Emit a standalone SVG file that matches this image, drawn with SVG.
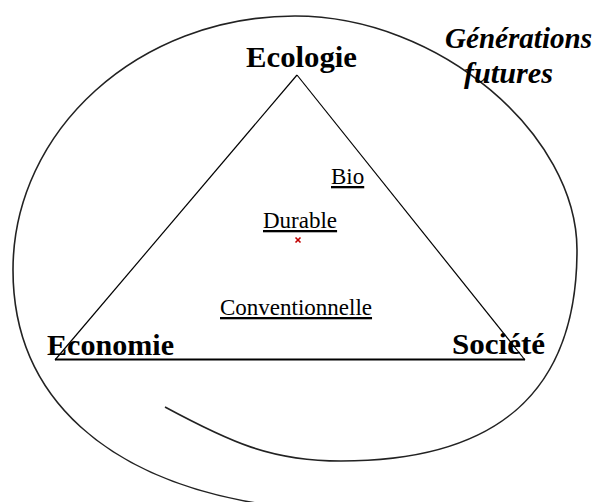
<svg xmlns="http://www.w3.org/2000/svg" width="596" height="502" viewBox="0 0 596 502">
  <style>
    .pole { font-family: "Liberation Serif", "Times New Roman", serif; font-weight: bold; font-size: 30px; fill: #000; }
    .gen { font-family: "Liberation Serif", "Times New Roman", serif; font-weight: bold; font-style: italic; font-size: 29px; fill: #000; }
    .agri { font-family: "Liberation Serif", "Times New Roman", serif; font-size: 23px; fill: #000; text-decoration: underline; }
    .edge { stroke: #000; stroke-width: 1.2; fill: none; }
    .spiral { stroke: #222; stroke-width: 1.6; fill: none; }
    .mark { stroke: #c00000; stroke-width: 1.6; }
  </style>
  <rect width="596" height="502" fill="#fff"/>

  <g id="spiral">
    <path class="spiral" d="M165,407 C230,442 271,461 341,461 C500,461 577,390 577,250 C577,135 440,16 295,16 C139,16 13,130 13,270 C13,400 110,480 262,504"/>
  </g>

  <g id="connectors">
    <line class="edge" x1="297" y1="75" x2="55" y2="360"/>
    <line class="edge" x1="297" y1="75" x2="525" y2="360"/>
    <line class="edge" x1="55" y1="359.5" x2="525" y2="359.5" style="stroke-width:2"/>
  </g>

  <g id="ecologie">
    <text class="pole" x="246" y="67" textLength="111" lengthAdjust="spacingAndGlyphs">Ecologie</text>
  </g>
  <g id="economie">
    <text class="pole" x="47" y="355" textLength="127" lengthAdjust="spacingAndGlyphs">Economie</text>
  </g>
  <g id="societe">
    <text class="pole" x="452" y="354" textLength="93" lengthAdjust="spacingAndGlyphs">Société</text>
  </g>
  <g id="generations-futures">
    <text class="gen" x="445" y="48" textLength="147" lengthAdjust="spacingAndGlyphs">Générations</text>
    <text class="gen" x="464" y="83" textLength="89" lengthAdjust="spacingAndGlyphs">futures</text>
  </g>

  <g id="bio">
    <text class="agri" x="331" y="184">Bio</text>
  </g>
  <g id="durable">
    <text class="agri" x="263" y="228">Durable</text>
    <g id="durable-mark">
      <line class="mark" x1="295.5" y1="237.5" x2="300.5" y2="242.5"/>
      <line class="mark" x1="300.5" y1="237.5" x2="295.5" y2="242.5"/>
    </g>
  </g>
  <g id="conventionnelle">
    <text class="agri" x="220" y="315">Conventionnelle</text>
  </g>
</svg>
